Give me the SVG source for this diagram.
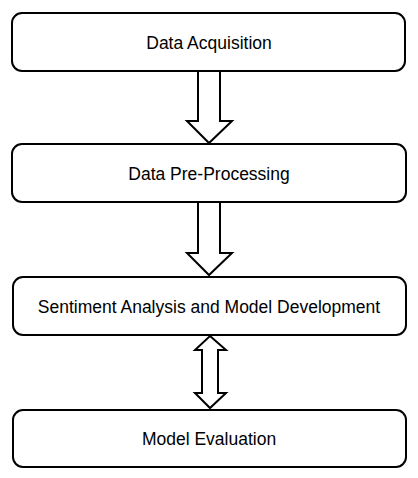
<svg xmlns="http://www.w3.org/2000/svg" width="418" height="478" viewBox="0 0 418 478">
  <style>
    .box { fill: #ffffff; stroke: #000000; stroke-width: 2; }
    .arrow { fill: #ffffff; stroke: #000000; stroke-width: 2; stroke-linejoin: miter; }
    .label { font-family: "Liberation Sans", Arial, sans-serif; font-size: 17.5px; fill: #000000; text-anchor: middle; }
  </style>
  <rect x="0" y="0" width="418" height="478" fill="#ffffff"/>

  <g id="connectors">
    <path class="arrow" d="M198,71 L220,71 L220,121 L232,121 L209,143 L187,121 L198,121 Z"/>
    <path class="arrow" d="M198,202 L220,202 L220,253 L232,253 L209,275 L187,253 L198,253 Z"/>
    <path class="arrow" d="M210,336 L226,350 L218,350 L218,393 L226,393 L210,408 L195,393 L202,393 L202,350 L195,350 Z"/>
  </g>

  <g id="data-acquisition">
    <rect class="box" x="12" y="13" width="393" height="58" rx="10"/>
    <text class="label" x="209" y="49">Data Acquisition</text>
  </g>

  <g id="data-pre-processing">
    <rect class="box" x="12" y="144" width="394" height="58" rx="10"/>
    <text class="label" x="209" y="180">Data Pre-Processing</text>
  </g>

  <g id="sentiment-analysis">
    <rect class="box" x="13" y="277" width="393" height="58" rx="10"/>
    <text class="label" x="209" y="313">Sentiment Analysis and Model Development</text>
  </g>

  <g id="model-evaluation">
    <rect class="box" x="13" y="410" width="393" height="57" rx="10"/>
    <text class="label" x="209" y="445">Model Evaluation</text>
  </g>
</svg>
